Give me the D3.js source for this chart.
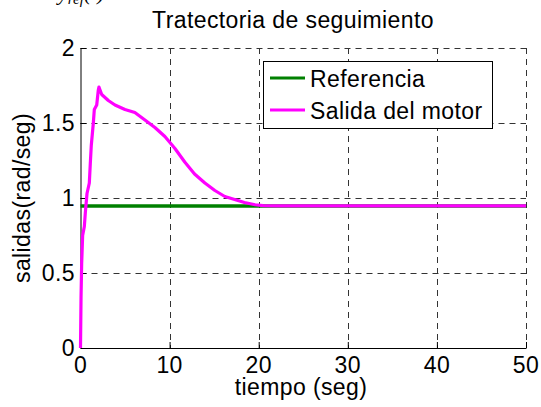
<!DOCTYPE html>
<html>
<head>
<meta charset="utf-8">
<script src="https://cdn.jsdelivr.net/npm/d3@7"></script>
<style>
  html, body { margin: 0; padding: 0; background: #fff; }
  svg text { font-family: "Liberation Sans", Arial, Helvetica, sans-serif; fill: #000; }
</style>
</head>
<body>
<svg id="chart" width="541" height="407"></svg>
<script>
// Motor speed tracking data (time in seconds, output in rad/seg)
const motorTime = [0, 0.06, 0.13, 0.24, 0.43, 0.54, 0.73, 0.99, 1.10, 1.21, 1.44, 1.55, 1.82, 2.0, 2.07,
                   2.38, 3.12, 3.87, 4.99, 6.1, 7.23, 8.35, 9.47, 10.6, 11.7, 12.8, 13.96, 15.08, 16.2,
                   17.3, 18.4, 19.6, 20.5, 22, 30, 40, 50];
const motorOutput = [0, 0.34, 0.56, 0.75, 0.81, 0.90, 1.03, 1.10, 1.23, 1.35, 1.50, 1.59, 1.62, 1.72, 1.74,
                     1.69, 1.65, 1.62, 1.59, 1.57, 1.52, 1.47, 1.41, 1.33, 1.24, 1.16, 1.10, 1.05, 1.01,
                     0.99, 0.97, 0.955, 0.949, 0.947, 0.947, 0.947, 0.947];
const refTime = [0, 50];
const refValue = [0.947, 0.947];

const xTicks = [0, 10, 20, 30, 40, 50];
const yTicks = [0, 0.5, 1, 1.5, 2];
const yTickLabels = ["0", "0.5", "1", "1.5", "2"];

const titleText = "Tratectoria de seguimiento";
const xLabelText = "tiempo (seg)";
const yLabelText = "salidas(rad/seg)";
const legendLabels = ["Referencia", "Salida del motor"];
const legendColors = ["#008000", "#ff00ff"];

const svg = d3.select("#chart");
const FS = 23;
const LS = "0.4px";

const x = d3.scaleLinear().domain([0, 50]).range([80.5, 526]);
const y = d3.scaleLinear().domain([0, 2]).range([348, 48]);

// grid lines (dashed)
const grid = svg.append("g").attr("stroke", "#333").attr("stroke-width", 1)
  .attr("stroke-dasharray", "6,5").attr("fill", "none");
xTicks.filter(d => d !== 0).forEach(d => {
  grid.append("line").attr("x1", Math.round(x(d)) + 0.5).attr("x2", Math.round(x(d)) + 0.5)
    .attr("y1", y(2)).attr("y2", y(0));
});
yTicks.filter(d => d !== 0).forEach(d => {
  grid.append("line").attr("y1", Math.round(y(d)) + 0.5).attr("y2", Math.round(y(d)) + 0.5)
    .attr("x1", x(0)).attr("x2", x(50));
});

// axes (left and bottom with inward ticks)
const xAxis = d3.axisBottom(x).tickValues(xTicks).tickSizeInner(-6).tickSizeOuter(0)
  .tickPadding(0).tickFormat(d3.format("d"));
const gx = svg.append("g").attr("transform", `translate(0,${y(0)})`).call(xAxis);
gx.select(".domain").attr("stroke", "#000");
gx.selectAll(".tick line").attr("stroke", "#000");
gx.selectAll(".tick text").text(null);

const yAxis = d3.axisLeft(y).tickValues(yTicks).tickSizeInner(-6).tickSizeOuter(0)
  .tickFormat((d, i) => yTickLabels[i]);
const gy = svg.append("g").attr("transform", `translate(${x(0)},0)`).call(yAxis);
gy.select(".domain").attr("stroke", "#000");
gy.selectAll(".tick line").attr("stroke", "#000");
gy.selectAll(".tick text").text(null);

// tick labels
svg.append("g").selectAll("text").data(xTicks).join("text")
  .attr("x", d => x(d)).attr("y", 373).attr("text-anchor", "middle")
  .attr("font-size", FS).style("letter-spacing", LS).text(d => d);
svg.append("g").selectAll("text").data(yTicks).join("text")
  .attr("x", 75).attr("y", d => y(d) + 8).attr("text-anchor", "end")
  .attr("font-size", FS).style("letter-spacing", LS).text((d, i) => yTickLabels[i]);

// series
const line = d3.line().x(d => x(d[0])).y(d => y(d[1]));
svg.append("path").datum(refTime.map((t, i) => [t, refValue[i]]))
  .attr("d", line).attr("fill", "none").attr("stroke", legendColors[0]).attr("stroke-width", 3.5);
svg.append("path").datum(motorTime.map((t, i) => [t, motorOutput[i]]))
  .attr("d", line).attr("fill", "none").attr("stroke", legendColors[1]).attr("stroke-width", 3.2)
  .attr("stroke-linejoin", "round");

// legend
const lg = svg.append("g");
lg.append("rect").attr("x", 263.5).attr("y", 61.5).attr("width", 229).attr("height", 67)
  .attr("fill", "#fff").attr("stroke", "#000").attr("stroke-width", 1);
legendLabels.forEach((lab, i) => {
  const ly = 78 + i * 32;
  lg.append("line").attr("x1", 270).attr("x2", 305).attr("y1", ly).attr("y2", ly)
    .attr("stroke", legendColors[i]).attr("stroke-width", 3);
  lg.append("text").attr("x", 310).attr("y", ly + 9).attr("font-size", FS)
    .style("letter-spacing", LS).text(lab);
});

// title and axis labels
svg.append("text").attr("x", 293).attr("y", 28).attr("text-anchor", "middle")
  .attr("font-size", FS).style("letter-spacing", LS).text(titleText);
svg.append("text").attr("x", 301).attr("y", 395).attr("text-anchor", "middle")
  .attr("font-size", FS).style("letter-spacing", LS).text(xLabelText);
svg.append("text").attr("transform", "translate(30,198) rotate(-90)").attr("text-anchor", "middle")
  .attr("font-size", FS).style("letter-spacing", LS).text(yLabelText);

// partially visible formula label above the title
const eq = svg.append("text").attr("x", 58).attr("y", 0)
  .style("font-family", "'Liberation Serif', 'Times New Roman', serif").style("font-style", "italic")
  .attr("font-size", 22);
eq.append("tspan").text("y");
eq.append("tspan").attr("dy", 4).attr("font-size", 15).text("ref");
eq.append("tspan").attr("dy", -4).text("(t)");
</script>
</body>
</html>
